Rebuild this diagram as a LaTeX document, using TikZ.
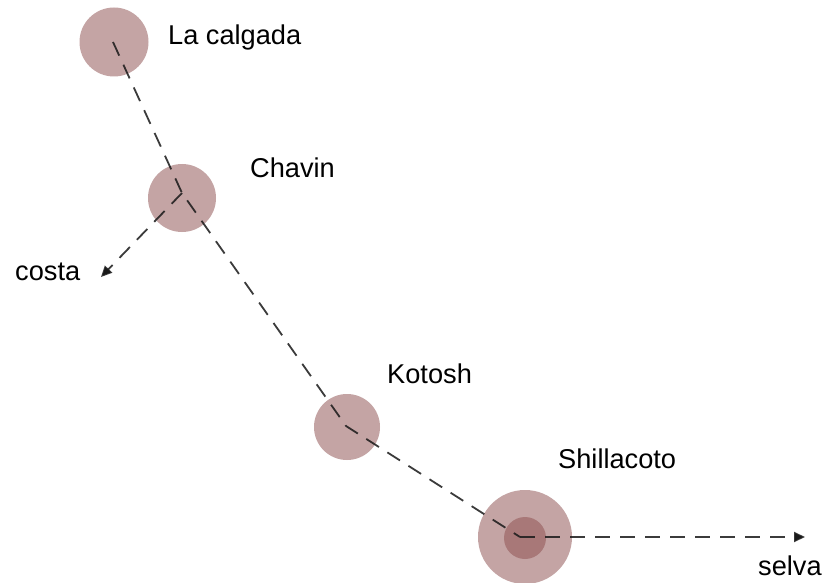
\documentclass[tikz,border=0pt]{standalone}
\usepackage{fontspec}
\setmainfont{Liberation Sans}
\usetikzlibrary{arrows.meta}
\definecolor{site}{RGB}{196,164,164}
\definecolor{core}{RGB}{168,120,120}
\definecolor{lin}{RGB}{25,25,25}
\begin{document}
\begin{tikzpicture}[x=1pt,y=-1pt,
  sitecircle/.style={circle,fill=site,inner sep=0pt,minimum size=#1},
  route/.style={draw=lin,line width=1.8pt,dash pattern=on 15pt off 10pt,draw opacity=0.85},
  tip/.style={-{Triangle[length=11pt,width=10pt]}},
  lbl/.style={anchor=base west,inner sep=0pt,font=\fontsize{27.2}{30}\selectfont}]
\useasboundingbox[fill=white] (0,0) rectangle (822,583);
% circles
\node[sitecircle=69pt] (lc) at (114,42) {};
\node[sitecircle=68pt] (ch) at (182,198) {};
\node[sitecircle=66pt] (ko) at (347,427) {};
\node[sitecircle=94pt] (sh) at (525,537) {};
\node[circle,fill=core,inner sep=0pt,minimum size=42pt] (shc) at (525,538) {};
% route points
\coordinate (plc) at (113,42);
\coordinate (pch) at (182,193);
\coordinate (pko) at (346,426);
\coordinate (psh) at (520,537);
\coordinate (costa) at (101,277);
\coordinate (selva) at (805,537);
\draw[route] (plc) -- (pch) -- (pko) -- (psh);
\draw[route,tip] (pch) -- (costa);
\draw[route,tip] (psh) -- (selva);
% labels
\node[lbl] (tlc) at (168,45) {La calgada};
\node[lbl] (tch) at (250,178) {Chavin};
\node[lbl] (tco) at (15,280) {costa};
\node[lbl] (tko) at (387,383) {Kotosh};
\node[lbl] (tsh) at (558,468) {Shillacoto};
\node[lbl] (tse) at (758,575) {selva};
\end{tikzpicture}
\end{document}
